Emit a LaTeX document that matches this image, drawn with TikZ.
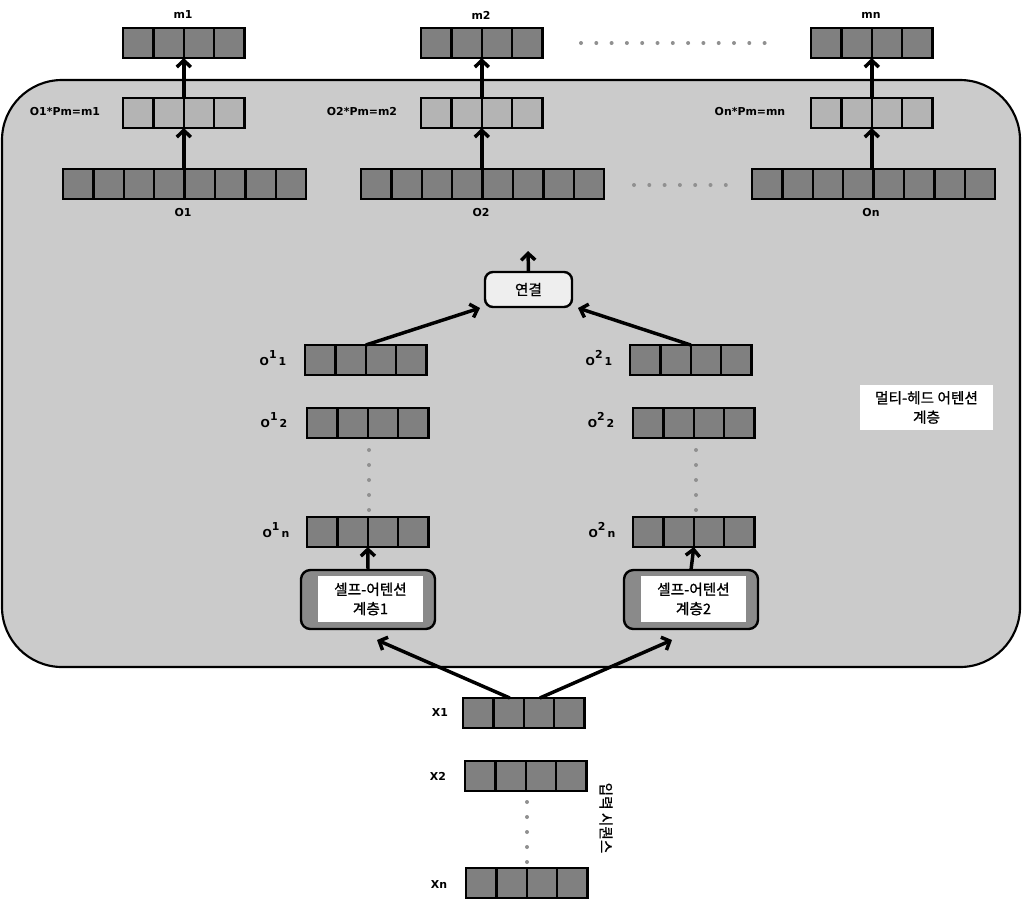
\documentclass[tikz,border=0pt]{standalone}
\usepackage{fontspec}
\setmainfont{DejaVu Sans}
\newfontfamily\kr[FakeBold=0.9]{Noto Sans CJK KR}
\usetikzlibrary{arrows.meta,calc}
\definecolor{bgc}{HTML}{CBCBCB}
\definecolor{celld}{HTML}{808080}
\definecolor{celll}{HTML}{B4B4B4}
\definecolor{saboxc}{HTML}{8A8A8A}
\definecolor{catfill}{HTML}{EEEEEE}
\definecolor{dotc}{HTML}{909090}
\tikzset{
 rowbox/.style={draw, line width=1.8pt, minimum height=22.5pt, inner sep=0pt, outer sep=0pt},
 darkcell/.style={fill=celld}, lightcell/.style={fill=celll},
 divider/.style={line width=1.8pt},
 arr/.style={line width=2.6pt, -{Straight Barb[length=5pt,width=10.5pt]}},
 lbl/.style={font=\bfseries\fontsize{8.2}{9}\selectfont, inner sep=0pt},
 krt/.style={font=\kr\fontsize{11}{14.5}\selectfont, align=center, inner sep=0pt},
 gdot/.style={fill=dotc, draw=none, circle, minimum size=3pt, inner sep=0pt},
 container/.style={draw, line width=1.6pt, fill=bgc, rounded corners=45pt, inner sep=0pt, outer sep=0pt},
 saouter/.style={draw, line width=1.8pt, fill=saboxc, rounded corners=7pt, inner sep=0pt, outer sep=0pt},
 sainner/.style={krt, fill=white, draw=none},
 catbox/.style={draw, line width=1.8pt, fill=catfill, rounded corners=6pt, inner sep=0pt, outer sep=0pt, font=\kr\fontsize{11}{12}\selectfont},
}
\newcommand\cellrow[5]{%
  \node[rowbox,#5,minimum width={#4*30.4*0.75pt},anchor=north west] (#1) at (#2,#3) {};
  \pgfmathtruncatemacro\lastk{#4-1}
  \foreach \k in {1,...,\lastk}{
    \draw[divider] ($(#1.north west)!\k/#4!(#1.north east)$) -- ($(#1.south west)!\k/#4!(#1.south east)$);
  }}
\begin{document}
\begin{tikzpicture}[x=0.75pt,y=-0.75pt]
\useasboundingbox (0,0) rectangle (1022,901);
% container
\node[container, minimum width={1018*0.75pt}, minimum height={587*0.75pt}, anchor=north west] (mha) at (2,80) {};
% top rows
\cellrow{m1}{123}{28}{4}{darkcell}
\cellrow{m2}{421}{28}{4}{darkcell}
\cellrow{mn}{811}{28}{4}{darkcell}
\cellrow{P1}{123}{98}{4}{lightcell}
\cellrow{P2}{421}{98}{4}{lightcell}
\cellrow{Pn}{811}{98}{4}{lightcell}
\cellrow{O1}{63}{169}{8}{darkcell}
\cellrow{O2}{361}{169}{8}{darkcell}
\cellrow{On}{752}{169}{8}{darkcell}
% labels
\node[lbl] (lm1) at (183,15) {m1};
\node[lbl] (lm2) at (481,15) {m2};
\node[lbl] (lmn) at (871,15) {mn};
\node[lbl] (lp1) at (65,112) {O1*Pm=m1};
\node[lbl] (lp2) at (362,112) {O2*Pm=m2};
\node[lbl] (lpn) at (750,112) {On*Pm=mn};
\node[lbl] (lo1) at (183,213) {O1};
\node[lbl] (lo2) at (481,213) {O2};
\node[lbl] (lon) at (871,213) {On};
% dots
\foreach \i in {0,...,12} \node[gdot] at (581+\i*15.3,43) {};
\foreach \i in {0,...,6} \node[gdot] at (634+\i*15.3,185) {};
\foreach \i in {0,...,4} {
  \node[gdot] at (369,450+15*\i) {};
  \node[gdot] at (696,450+15*\i) {};
  \node[gdot] at (527,802+15*\i) {};
}
% arrows top
\draw[arr] (P1.south|-O1.north) -- (P1.south);
\draw[arr] (P1.north) -- (m1.south);
\draw[arr] (P2.south|-O2.north) -- (P2.south);
\draw[arr] (P2.north) -- (m2.south);
\draw[arr] (Pn.south|-On.north) -- (Pn.south);
\draw[arr] (Pn.north) -- (mn.south);
% concat
\node[catbox, minimum width={87*0.75pt}, minimum height={35*0.75pt}] (cat) at (528.5,289.5) {연결};
\coordinate (catout) at (528,251);
\draw[arr] (cat.north) -- (catout);
% heads
\cellrow{O11}{305}{345}{4}{darkcell}
\cellrow{O12}{307}{408}{4}{darkcell}
\cellrow{O1n}{307}{517}{4}{darkcell}
\cellrow{O21}{630}{345}{4}{darkcell}
\cellrow{O22}{633}{408}{4}{darkcell}
\cellrow{O2n}{633}{517}{4}{darkcell}
\node[lbl] (l11) at (273,358) {O\raisebox{1.1ex}{1}\hspace{1.5pt}1};
\node[lbl] (l12) at (274,420) {O\raisebox{1.1ex}{1}\hspace{1.5pt}2};
\node[lbl] (l1n) at (276,530) {O\raisebox{1.1ex}{1}\hspace{1.5pt}n};
\node[lbl] (l21) at (599,358) {O\raisebox{1.1ex}{2}\hspace{1.5pt}1};
\node[lbl] (l22) at (601,420) {O\raisebox{1.1ex}{2}\hspace{1.5pt}2};
\node[lbl] (l2n) at (602,530) {O\raisebox{1.1ex}{2}\hspace{1.5pt}n};
\draw[arr] (O11.north) -- ([xshift=-3.75pt,yshift=-0.75pt]cat.south west);
\draw[arr] (O21.north) -- ([xshift=4.5pt,yshift=-0.75pt]cat.south east);
% self attention
\node[saouter, minimum width={134*0.75pt}, minimum height={59*0.75pt}, anchor=north west] (SA1) at (301,570) {};
\node[sainner, minimum width={105*0.75pt}, minimum height={46*0.75pt}] (SA1t) at (370.5,599) {셀프-어텐션\\계층1};
\node[saouter, minimum width={134*0.75pt}, minimum height={59*0.75pt}, anchor=north west] (SA2) at (624,570) {};
\node[sainner, minimum width={105*0.75pt}, minimum height={46*0.75pt}] (SA2t) at (693.5,599) {셀프-어텐션\\계층2};
\draw[arr] (SA1.north) -- (O1n.south);
\draw[arr] (SA2.north) -- (O2n.south);
% multi-head label
\node[krt, fill=white, minimum width={133*0.75pt}, minimum height={45*0.75pt}] (mhl) at (926.5,407.5) {멀티-헤드 어텐션\\계층};
% inputs
\cellrow{X1}{463}{698}{4}{darkcell}
\cellrow{X2}{465}{761}{4}{darkcell}
\cellrow{Xn}{466}{868}{4}{darkcell}
\node[lbl] (lx1) at (440,713) {X1};
\node[lbl] (lx2) at (438,776) {X2};
\node[lbl] (lxn) at (439,885) {Xn};
\node[krt, rotate=-90] (inl) at (606,818) {입력 시퀀스};
\draw[arr] ([xshift=-10.5pt]X1.north) -- ([xshift=6.75pt,yshift=-8.25pt]SA1.south);
\draw[arr] ([xshift=12pt]X1.north) -- ([xshift=-14.25pt,yshift=-8.25pt]SA2.south);
\end{tikzpicture}
\end{document}
